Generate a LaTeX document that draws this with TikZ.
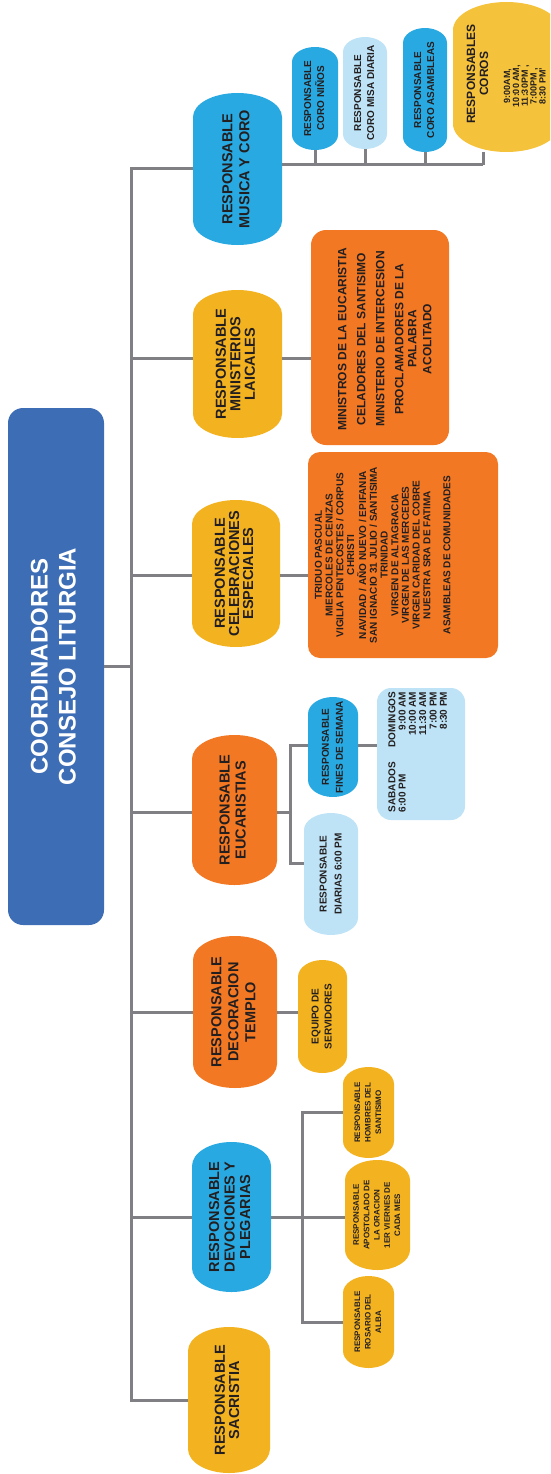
\documentclass[tikz,border=0pt]{standalone}
\usepackage{fontspec}
\usepackage{graphicx}
\setmainfont{Liberation Sans}
\usetikzlibrary{calc}
\definecolor{cRoot}{HTML}{3D6DB5}
\definecolor{cBlue}{HTML}{29A9E1}
\definecolor{cLight}{HTML}{BEE3F6}
\definecolor{cYel}{HTML}{F3B220}
\definecolor{cYelB}{HTML}{F5C23C}
\definecolor{cOra}{HTML}{F37823}
\definecolor{cLine}{HTML}{808084}
\definecolor{cTxt}{HTML}{231F20}
\newcommand\rtxt[3]{\rotatebox{90}{\fontsize{#1}{#2}\selectfont\bfseries\begin{tabular}{@{}c@{}}#3\end{tabular}}}
% x1 y1 x2 y2 capheight colour name text
\newcommand\mypill[8]{%
  \fill[#6] (#1,#2+#5) arc[start angle=180,end angle=360,x radius={(#3-#1)/2},y radius=#5]
     -- (#3,#4-#5) arc[start angle=0,end angle=180,x radius={(#3-#1)/2},y radius=#5] -- cycle;
  \node[boxnode,minimum width={#3-#1},minimum height={#4-#2}] (#7) at ({(#1+#3)/2},{(#2+#4)/2}) {#8};
}
\tikzset{
  boxnode/.style={rectangle,inner sep=0pt,outer sep=0pt,text=cTxt},
  txtnode/.style={inner sep=0pt,outer sep=0pt,text=cTxt},
  conn/.style={draw=cLine,line width=3pt}
}
\begin{document}
\begin{tikzpicture}[x=1pt,y=-1pt]
\useasboundingbox (0,0) rectangle (550,1474);
\clip (0,0) rectangle (550,1474);
% root
\fill[cRoot,rounded corners=15] (8,408) rectangle (104,925);
\node[boxnode,text=white,minimum width=96,minimum height=517] (root) at (56,666.5)
  {\rtxt{24}{28}{COORDINADORES\\CONSEJO LITURGIA}};
% level 1
\mypill{193}{93}{282}{245}{24}{cBlue}{music}{\rtxt{14.5}{17}{RESPONSABLE\\MUSICA Y CORO}}
\mypill{193}{290}{282}{438}{24}{cYel}{minis}{\rtxt{14.5}{14.5}{RESPONSABLE\\MINISTERIOS\\LAICALES}}
\mypill{192}{500}{280}{647}{24}{cYel}{celeb}{\rtxt{14.5}{13.5}{RESPONSABLE\\CELEBRACIONES\\ESPECIALES}}
\mypill{192}{735}{277}{885}{24}{cOra}{euca}{\rtxt{14.5}{16}{RESPONSABLE\\EUCARISTIAS}}
\mypill{193}{936}{277}{1088}{24}{cOra}{deco}{\rtxt{14.5}{17}{RESPONSABLE\\DECORACION\\TEMPLO}}
\mypill{192}{1142}{271}{1292}{24}{cBlue}{devo}{\rtxt{14.5}{15.5}{RESPONSABLE\\DEVOCIONES Y\\PLEGARIAS}}
\mypill{188}{1327}{270}{1473}{24}{cYel}{sacr}{\rtxt{14.5}{13.5}{RESPONSABLE\\SACRISTIA}}
% music children
\mypill{292}{47}{338}{150}{15}{cBlue}{nin}{\rtxt{10}{13}{RESPONSABLE\\CORO NIÑOS}}
\mypill{343}{37}{387}{149}{15}{cLight}{misa}{\rtxt{10}{13}{RESPONSABLE\\CORO MISA DIARIA}}
\mypill{403}{28}{447}{152}{15}{cBlue}{asam}{\rtxt{10}{13}{RESPONSABLE\\CORO ASAMBLEAS}}
\mypill{453}{2}{560}{152}{28}{cYelB}{coros}{}
\node[txtnode] (corT) at (479,74) {\rtxt{12}{13}{RESPONSABLES\\COROS}};
\node[txtnode] (corTimes) at (526,86) {\rtxt{9}{8.5}{9:00AM,\\10:00 AM,\\11:30PM ,\\7:00PM ,\\8:30 PM'}};
% ministerios child
\fill[cOra,rounded corners=15] (311,230) rectangle (449,445);
\node[boxnode,minimum width=138,minimum height=215] (minchild) at (380,337.5) {};
\node[txtnode] (minT) at (385,339) {\rtxt{12}{19}{MINISTROS DE LA EUCARISTIA\\CELADORES DEL SANTISIMO\\MINISTERIO DE INTERCESION\\PROCLAMADORES DE LA\\[-6pt]PALABRA\\[-4pt]ACOLITADO}};
% celebraciones child
\fill[cOra,rounded corners=12] (308,452) rectangle (498,658);
\node[boxnode,minimum width=190,minimum height=206] (celchild) at (403,555) {};
\node[txtnode] (celT) at (384,555) {\rtxt{10}{10.7}{TRIDUO PASCUAL\\MIERCOLES DE CENIZAS\\VIGILIA PENTECOSTES / CORPUS\\CHRISTI\\NAVIDAD / AÑO NUEVO / EPIFANIA\\SAN IGNACIO 31 JULIO / SANTISIMA\\TRINIDAD\\VIRGEN DE ALTAGRACIA\\VIRGEN DE LAS MERCEDES\\VIRGEN CARIDAD DEL COBRE\\NUESTRA SRA DE FATIMA\\[9.3pt]ASAMBLEAS DE COMUNIDADES}};
% eucaristias children
\mypill{308}{697}{358}{797}{17}{cBlue}{fines}{\rtxt{10}{14}{RESPONSABLE\\FINES DE SEMANA}}
\mypill{304}{813}{358}{935}{17}{cLight}{diar}{\rtxt{10}{15}{RESPONSABLE\\DIARIAS 6:00 PM}}
\fill[cLight,rounded corners=14] (377,688) rectangle (465,820);
\node[boxnode,minimum width=88,minimum height=132] (sched) at (421,754) {};
\node[txtnode] (schedT) at (419,752) {\rotatebox{90}{\fontsize{10}{10.3}\selectfont\bfseries
  \begin{tabular}{@{}l@{\hspace{15pt}}r@{}}SABADOS & DOMINGOS\\6:00 PM & 9:00 AM\\ & 10:00 AM\\ & 11:30 AM\\ & 7:00 PM\\ & 8:30 PM\end{tabular}}};
% decoracion child
\mypill{298}{960}{347}{1073}{17}{cYel}{equipo}{\rtxt{10}{13}{EQUIPO DE\\SERVIDORES}}
% devociones children
\mypill{343}{1067}{394}{1158}{17}{cYel}{hom}{\rtxt{8}{10.5}{RESPONSABLE\\HOMBRES DEL\\SANTISIMO}}
\mypill{345}{1160}{410}{1270}{20}{cYel}{apo}{\rtxt{8}{10.3}{RESPONSABLE\\APOSTOLADO DE\\LA ORACION\\1ER VIERNES DE\\CADA MES}}
\mypill{343}{1276}{394}{1368}{17}{cYel}{ros}{\rtxt{8}{10.5}{RESPONSABLE\\ROSARIO DEL\\ALBA}}
% connector helpers
\coordinate (tTop) at (131,169);
\coordinate (tBot) at (131,1400);
\coordinate (b2) at (131,358);
\coordinate (b3) at (131,575);
\coordinate (b4) at (131,812);
\coordinate (eb) at (290,745);
\coordinate (ebB) at (290,863);
\coordinate (db) at (302,1217);
\coordinate (mbE) at (483,165);
% trunk
\draw[conn] (root.east) -- (root.east -| tTop);
\draw[conn] (music.west) -- (tTop) -- (tBot) -- (sacr.west);
\draw[conn] (b2) -- (b2 -| minis.west);
\draw[conn] (b2 -| minis.east) -- (b2 -| minchild.west);
\draw[conn] (b3) -- (b3 -| celeb.west);
\draw[conn] (b3 -| celeb.east) -- (b3 -| celchild.west);
\draw[conn] (b4) -- (b4 -| euca.west);
\draw[conn] (b4 -| euca.east) -- (b4 -| eb);
\draw[conn] (eb -| fines.west) -- (eb) -- (ebB) -- (ebB -| diar.west);
\draw[conn] (eb -| fines.east) -- (eb -| sched.west);
\draw[conn] (tTop |- deco.west) -- (deco.west);
\draw[conn] (deco.east) -- (deco.east -| equipo.west);
\draw[conn] (tTop |- devo.west) -- (devo.west);
\draw[conn] (devo.east) -- (devo.east -| apo.west);
\draw[conn] (hom.west) -- (hom.west -| db) -- (ros.west -| db) -- (ros.west);
% music bus
\draw[conn] (music.east |- mbE) -- (mbE);
\draw[conn] (nin.south) -- (nin.south |- mbE);
\draw[conn] (misa.south) -- (misa.south |- mbE);
\draw[conn] (asam.south) -- (asam.south |- mbE);
\draw[conn] (coros.south -| mbE) -- (mbE);
\end{tikzpicture}
\end{document}
